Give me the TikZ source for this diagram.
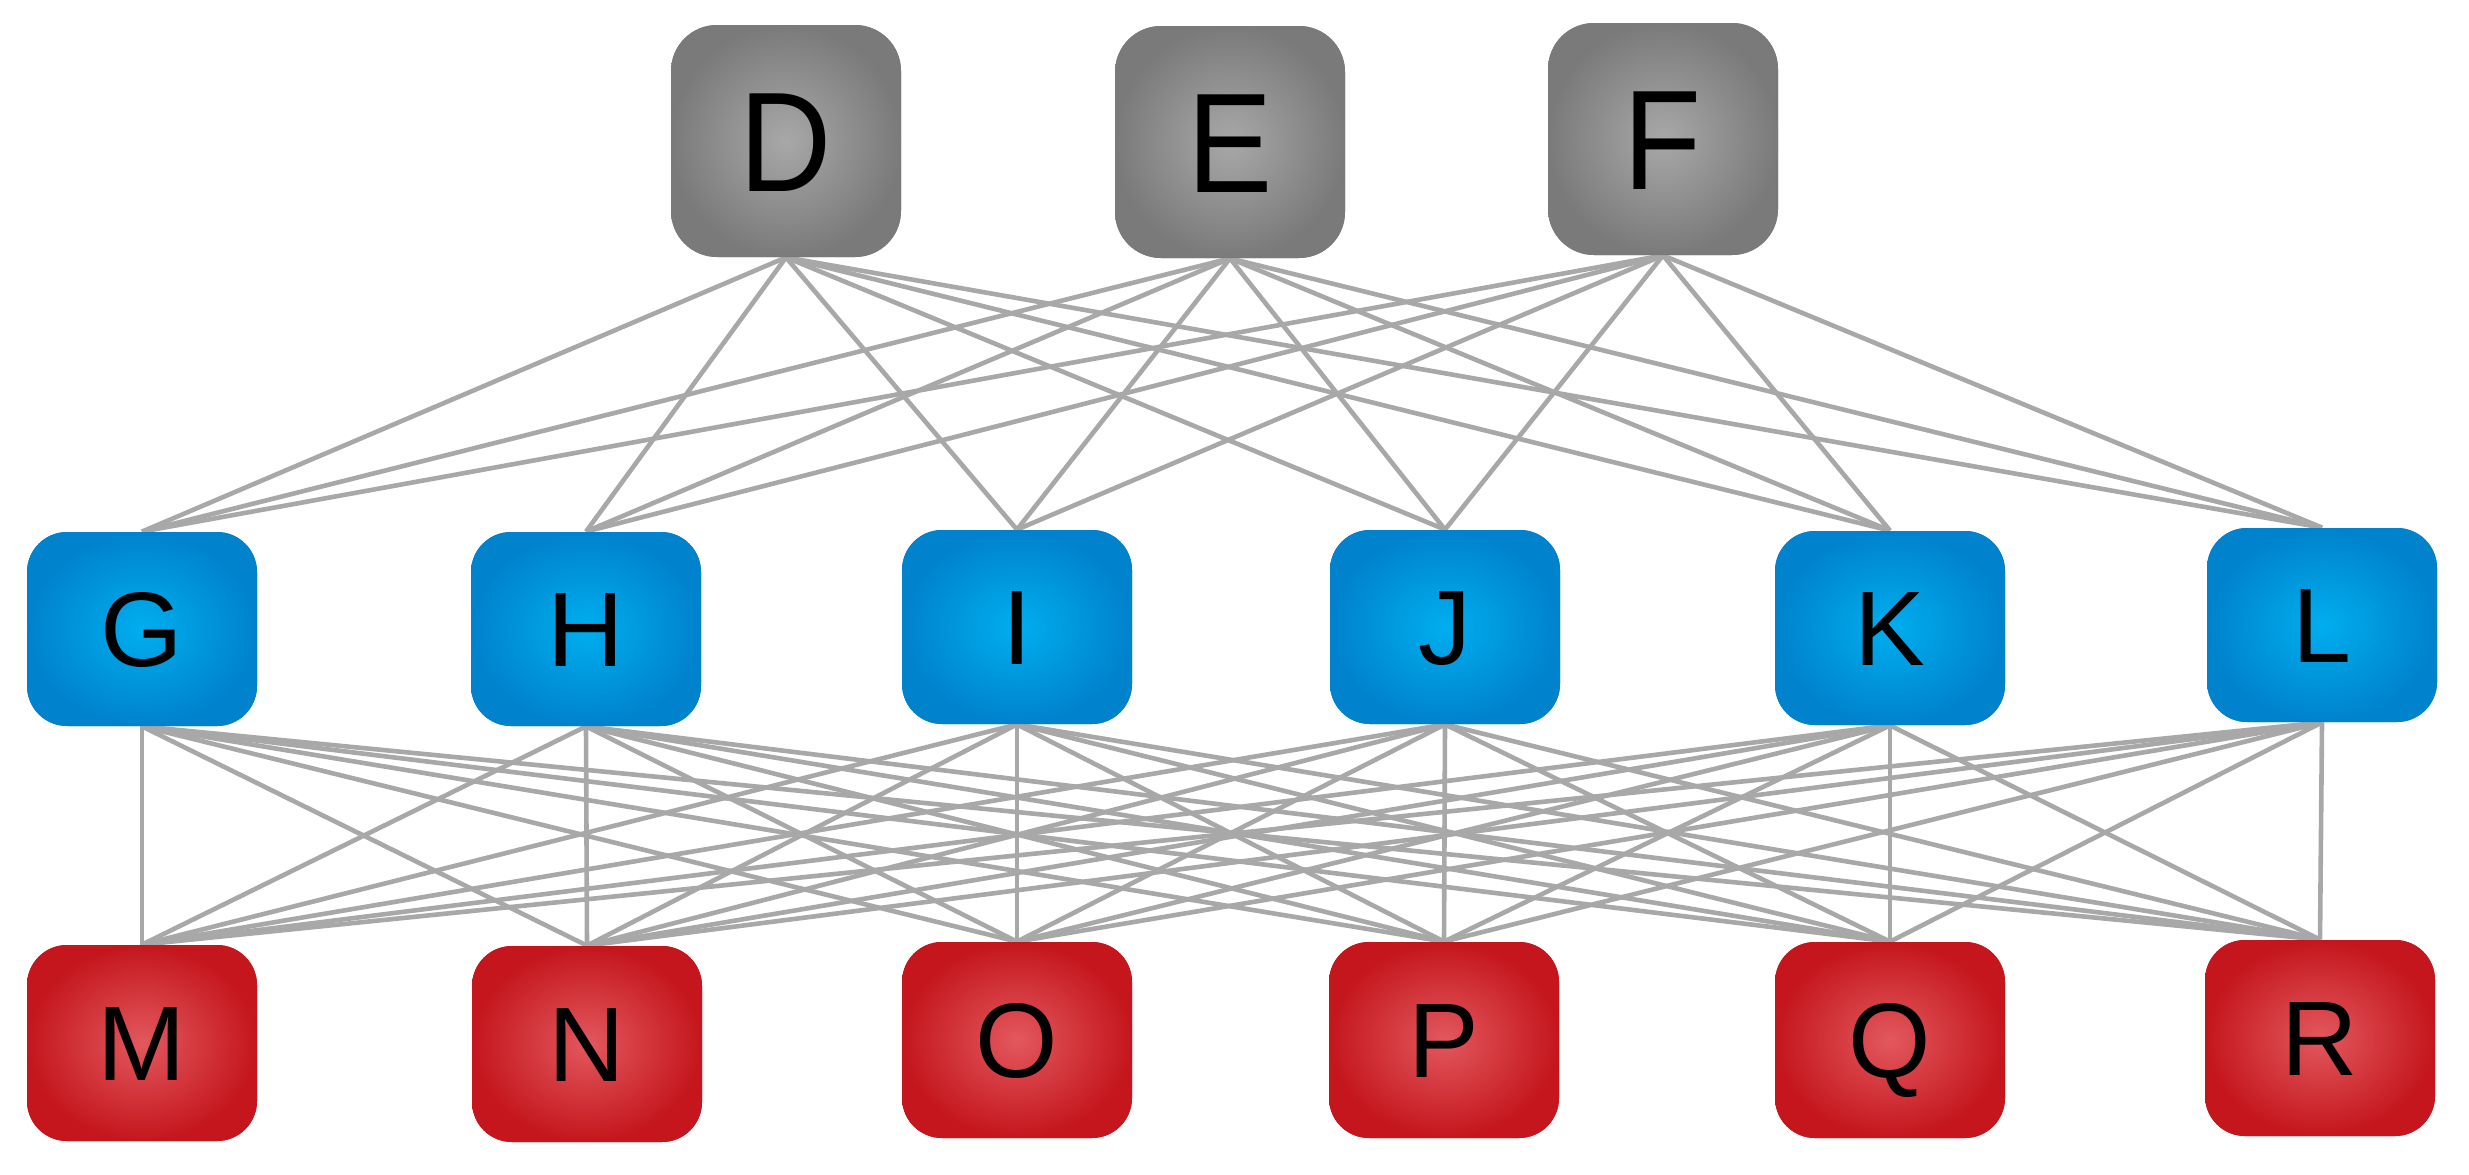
\documentclass[tikz,border=0pt]{standalone}
\usepackage{fontspec}
\setmainfont{Liberation Sans}
\newfontfamily\topfont[FakeStretch=0.9]{Liberation Sans}
\definecolor{gin}{HTML}{A8A8A8}
\definecolor{gout}{HTML}{7A7A7A}
\definecolor{bin}{HTML}{00AEEF}
\definecolor{bout}{HTML}{0082CC}
\definecolor{rin}{HTML}{E2585E}
\definecolor{rout}{HTML}{C4161C}
\definecolor{edgec}{HTML}{A8A8A8}
\begin{document}
\begin{tikzpicture}[x=0.5pt,y=-0.5pt,
  box/.style={rounded corners=20pt, minimum width=115pt, inner sep=0pt, text depth=0pt},
  topbox/.style={box, minimum height=116pt, rounded corners=23pt,
    shading=radial, inner color=gin, outer color=gout,
    font=\topfont\fontsize{71}{75}\selectfont, text height=50.8pt},
  midbox/.style={box, minimum height=97pt,
    shading=radial, inner color=bin, outer color=bout,
    font=\fontsize{53}{57}\selectfont, text height=37.9pt},
  botbox/.style={box, minimum height=98pt,
    shading=radial, inner color=rin, outer color=rout,
    font=\fontsize{53}{57}\selectfont, text height=37.9pt},
  link/.style={draw=edgec, line width=2.3pt}]
\useasboundingbox (0,0) rectangle (2469,1174);
\fill[white] (0,0) rectangle (2469,1174);
% top row
\node[topbox] (D) at (786,141) {D};
\node[topbox] (E) at (1230,142) {E};
\node[topbox] (F) at (1663,139) {F};
% middle row
\node[midbox] (G) at (142,629) {G};
\node[midbox] (H) at (586,629) {H};
\node[midbox] (I) at (1017,627) {I};
\node[midbox] (J) at (1445,627) {J};
\node[midbox] (K) at (1890,628) {K};
\node[midbox] (L) at (2322,625) {L};
% bottom row
\node[botbox] (M) at (142,1043) {M};
\node[botbox] (N) at (587,1044) {N};
\node[botbox] (O) at (1017,1040) {O};
\node[botbox] (P) at (1444,1040) {P};
\node[botbox] (Q) at (1890,1040) {Q};
\node[botbox] (R) at (2320,1038) {R};
% edges
\foreach \a in {D,E,F}{
  \foreach \b in {G,H,I,J,K,L}{
    \draw[link] (\a.south) -- (\b.north);
  }
}
\foreach \a in {G,H,I,J,K,L}{
  \foreach \b in {M,N,O,P,Q,R}{
    \draw[link] (\a.south) -- (\b.north);
  }
}
% redraw nodes above edges
\node[topbox] at (D) {D};
\node[topbox] at (E) {E};
\node[topbox] at (F) {F};
\node[midbox] at (G) {G};
\node[midbox] at (H) {H};
\node[midbox] at (I) {I};
\node[midbox] at (J) {J};
\node[midbox] at (K) {K};
\node[midbox] at (L) {L};
\node[botbox] at (M) {M};
\node[botbox] at (N) {N};
\node[botbox] at (O) {O};
\node[botbox] at (P) {P};
\node[botbox] at (Q) {Q};
\node[botbox] at (R) {R};
\end{tikzpicture}
\end{document}
